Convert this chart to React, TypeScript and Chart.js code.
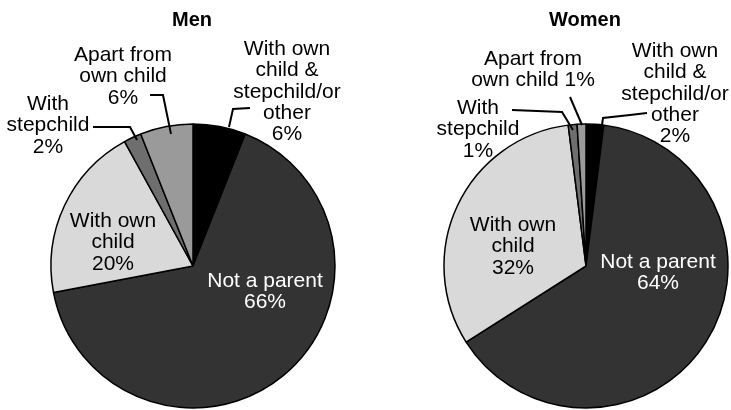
import React, { useEffect, useRef } from "react";
import { Chart, registerables } from "chart.js";

Chart.register(...registerables);

const FONT = '"Liberation Sans", Arial, Helvetica, sans-serif';

const categories = [
  "With own child & stepchild/or other",
  "Not a parent",
  "With own child",
  "With stepchild",
  "Apart from own child",
];
const menValues = [6, 66, 20, 2, 6];
const womenValues = [2, 64, 32, 1, 1];
const sliceColors = ["#000000", "#333333", "#d9d9d9", "#6e6e6e", "#9a9a9a"];
const labelTextColors = ["#000000", "#ffffff", "#000000", "#000000", "#000000"];

// label text lines per category (value appended as last piece)
const menLabelLines = [
  ["With own", "child &", "stepchild/or", "other", ""],
  ["Not a parent", ""],
  ["With own", "child", ""],
  ["With", "stepchild", ""],
  ["Apart from", "own child", ""],
];
const womenLabelLines = [
  ["With own", "child &", "stepchild/or", "other", ""],
  ["Not a parent", ""],
  ["With own", "child", ""],
  ["With", "stepchild", ""],
  ["Apart from", "own child "],
];

type Ann = { dx: number; by: number };
type Lead = [number, number][];

// annotation placement relative to pie centre (text centre x, first baseline y)
const menAnn: Ann[] = [
  { dx: 94, by: -211 },
  { dx: 72, by: 21 },
  { dx: -80, by: -39 },
  { dx: -145, by: -156 },
  { dx: -70, by: -205 },
];
const womenAnn: Ann[] = [
  { dx: 89, by: -209 },
  { dx: 72, by: 2 },
  { dx: -73, by: -35 },
  { dx: -108, by: -152 },
  { dx: -53, by: -201 },
];
const menLeads: Lead[] = [
  [[36, -139], [40, -157], [57, -158]],
  [],
  [],
  [[-100, -139], [-63, -139], [-56, -126]],
  [[-43, -171], [-30, -171], [-22, -132]],
];
const womenLeads: Lead[] = [
  [[16, -141], [17, -148], [44, -151], [61, -153]],
  [],
  [],
  [[-74, -156], [-24, -154], [-13, -136]],
  [[-16, -169], [-4, -141]],
];

function makeLabelPlugin(
  title: string,
  values: number[],
  lines: string[][],
  anns: Ann[],
  leads: Lead[]
) {
  return {
    id: "pieLabels",
    afterDraw(chart: any) {
      const arc = chart.getDatasetMeta(0).data[0];
      if (!arc) return;
      const cx = arc.x;
      const cy = arc.y;
      const ctx = chart.ctx as CanvasRenderingContext2D;
      ctx.save();
      ctx.textAlign = "center";
      ctx.textBaseline = "alphabetic";
      ctx.fillStyle = "#000";
      ctx.font = `bold 20px ${FONT}`;
      ctx.fillText(title, cx - 1, cy - 240);
      ctx.font = `21px ${FONT}`;
      const lh = 21.3;
      anns.forEach((a, i) => {
        const ls = lines[i].slice();
        ls[ls.length - 1] = ls[ls.length - 1] + values[i] + "%";
        ctx.fillStyle = labelTextColors[i];
        ls.forEach((t, k) => {
          ctx.fillText(t, cx + a.dx, cy + a.by + k * lh);
        });
      });
      ctx.strokeStyle = "#000";
      ctx.lineWidth = 2;
      ctx.lineJoin = "miter";
      leads.forEach((l) => {
        if (!l.length) return;
        ctx.beginPath();
        l.forEach(([x, y], k) => {
          if (k === 0) ctx.moveTo(cx + x, cy + y);
          else ctx.lineTo(cx + x, cy + y);
        });
        ctx.stroke();
      });
      ctx.restore();
    },
  };
}

function PieCanvas(props: {
  left: number;
  width: number;
  title: string;
  values: number[];
  lines: string[][];
  anns: Ann[];
  leads: Lead[];
  padLeft: number;
  padRight: number;
}) {
  const ref = useRef<HTMLCanvasElement | null>(null);
  useEffect(() => {
    if (!ref.current) return;
    const chart = new Chart(ref.current, {
      type: "pie",
      data: {
        labels: categories,
        datasets: [
          {
            data: props.values,
            backgroundColor: sliceColors,
            borderColor: "#000",
            borderWidth: 1.5,
            radius: 142,
          } as any,
        ],
      },
      options: {
        animation: false,
        responsive: false,
        devicePixelRatio: 1,
        layout: {
          padding: { left: props.padLeft, right: props.padRight, top: 122, bottom: 0 },
        },
        plugins: {
          legend: { display: false },
          tooltip: { enabled: false },
          title: { display: false },
        },
        events: [],
      },
      plugins: [
        makeLabelPlugin(props.title, props.values, props.lines, props.anns, props.leads),
      ],
    });
    return () => chart.destroy();
  }, []);
  return (
    <canvas
      ref={ref}
      width={props.width}
      height={410}
      style={{
        position: "absolute",
        left: props.left,
        top: 0,
        width: props.width,
        height: 410,
        display: "block",
      }}
    />
  );
}

export default function App() {
  return (
    <div
      style={{
        position: "absolute",
        left: 0,
        top: 0,
        width: 731,
        height: 410,
        background: "#fff",
        overflow: "hidden",
      }}
    >
      <PieCanvas
        left={0}
        width={365}
        title="Men"
        values={menValues}
        lines={menLabelLines}
        anns={menAnn}
        leads={menLeads}
        padLeft={30}
        padRight={9}
      />
      <PieCanvas
        left={365}
        width={366}
        title="Women"
        values={womenValues}
        lines={womenLabelLines}
        anns={womenAnn}
        leads={womenLeads}
        padLeft={80}
        padRight={4}
      />
    </div>
  );
}
